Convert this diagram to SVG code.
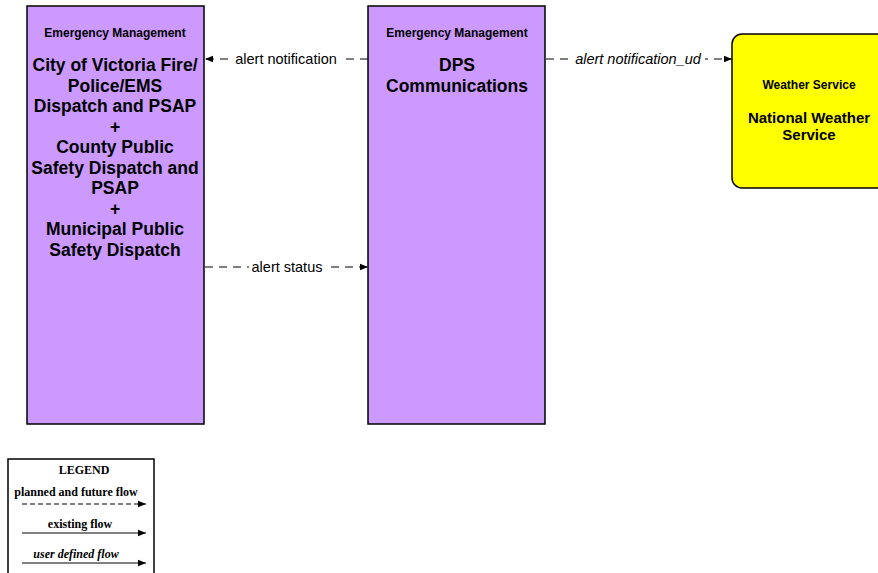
<svg xmlns="http://www.w3.org/2000/svg" width="878" height="573" viewBox="0 0 878 573">
<style>
.box{fill:#cc99ff;stroke:#000;stroke-width:1.5}
.ws{fill:#ffff00;stroke:#000;stroke-width:1.5}
.cat{font-family:"Liberation Sans",Arial,sans-serif;font-weight:bold;font-size:12px;text-anchor:middle}
.ttl{font-family:"Liberation Sans",Arial,sans-serif;font-weight:bold;font-size:17.5px;text-anchor:middle}
.ttl2{font-family:"Liberation Sans",Arial,sans-serif;font-weight:bold;font-size:15px;text-anchor:middle}
.lbl{font-family:"Liberation Sans",Arial,sans-serif;font-size:14.5px;text-anchor:middle}
.flow{stroke:#000;stroke-width:1.2;fill:none;stroke-dasharray:8,6}
.lg{font-family:"Liberation Serif","Times New Roman",serif;font-weight:bold;font-size:12px;text-anchor:middle}
</style>
<defs>
<marker id="ah" viewBox="0 0 10 10" refX="10" refY="5" markerWidth="8" markerHeight="8" markerUnits="userSpaceOnUse" orient="auto">
<path d="M0,1 L10,5 L0,9 z" fill="#000"/>
</marker>
</defs>
<g id="connectors">
<line class="flow" x1="368" y1="59" x2="205" y2="59" marker-end="url(#ah)"/>
<rect x="232" y="50" width="108" height="16" fill="#fff"/>
<text class="lbl" x="286" y="63.5">alert notification</text>
<line class="flow" x1="205" y1="267" x2="368" y2="267" marker-end="url(#ah)"/>
<rect x="249" y="258" width="76" height="16" fill="#fff"/>
<text class="lbl" x="287" y="272">alert status</text>
<line class="flow" x1="546" y1="59" x2="732" y2="59" marker-end="url(#ah)"/>
<rect x="572" y="50" width="133" height="16" fill="#fff"/>
<text class="lbl" x="638" y="64" font-style="italic">alert notification_ud</text>
</g>
<g id="node-victoria">
<rect class="box" x="27" y="6" width="177" height="418"/>
<text class="cat" x="115" y="37">Emergency Management</text>
<text class="ttl" x="115" y="71">City of Victoria Fire/</text>
<text class="ttl" x="115" y="91.5">Police/EMS</text>
<text class="ttl" x="115" y="112">Dispatch and PSAP</text>
<text class="ttl" x="115" y="132.5">+</text>
<text class="ttl" x="115" y="153">County Public</text>
<text class="ttl" x="115" y="173.5">Safety Dispatch and</text>
<text class="ttl" x="115" y="194">PSAP</text>
<text class="ttl" x="115" y="214.5">+</text>
<text class="ttl" x="115" y="235">Municipal Public</text>
<text class="ttl" x="115" y="255.5">Safety Dispatch</text>
</g>
<g id="node-dps">
<rect class="box" x="368" y="6" width="177" height="418"/>
<text class="cat" x="457" y="37">Emergency Management</text>
<text class="ttl" x="457" y="71">DPS</text>
<text class="ttl" x="457" y="91.5">Communications</text>
</g>
<g id="node-nws">
<rect class="ws" x="732" y="34" width="160" height="154" rx="10"/>
<text class="cat" x="809" y="89">Weather Service</text>
<text class="ttl2" x="809" y="123">National Weather</text>
<text class="ttl2" x="809" y="140">Service</text>
</g>
<g id="legend">
<rect x="8" y="459" width="146" height="130" fill="#fff" stroke="#000" stroke-width="1.5"/>
<text class="lg" x="84" y="474">LEGEND</text>
<text class="lg" x="76" y="496">planned and future flow</text>
<line x1="22" y1="504" x2="146" y2="504" stroke="#000" stroke-width="1" stroke-dasharray="5,3" marker-end="url(#ah)"/>
<text class="lg" x="80" y="528">existing flow</text>
<line x1="22" y1="533" x2="146" y2="533" stroke="#000" stroke-width="1" marker-end="url(#ah)"/>
<text class="lg" x="76" y="558" font-style="italic">user defined flow</text>
<line x1="22" y1="563" x2="146" y2="563" stroke="#000" stroke-width="1" marker-end="url(#ah)"/>
</g>
</svg>
